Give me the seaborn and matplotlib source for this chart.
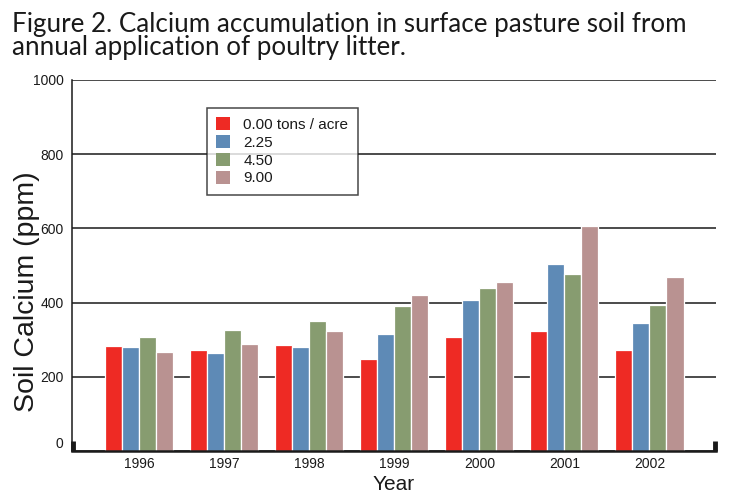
import matplotlib
matplotlib.use("Agg")
import matplotlib.pyplot as plt
import matplotlib.transforms as mtransforms
import seaborn as sns
import pandas as pd

years = ["1996", "1997", "1998", "1999", "2000", "2001", "2002"]
rates = ["0.00 tons / acre", "2.25", "4.50", "9.00"]
ca_000 = [284, 273, 287, 249, 308, 324, 273]
ca_225 = [279, 265, 281, 316, 407, 504, 346]
ca_450 = [308, 327, 351, 391, 440, 477, 394]
ca_900 = [268, 289, 324, 421, 456, 606, 469]
yticks = [0, 200, 400, 600, 800, 1000]
colors = ["#EE2A24", "#5E8AB6", "#879C70", "#B99291"]

series = [ca_000, ca_225, ca_450, ca_900]
rows = []
for r, vals in zip(rates, series):
    for y, v in zip(years, vals):
        rows.append({"Year": y, "Rate": r, "Calcium": v})
df = pd.DataFrame(rows)

sns.set_style("white")
plt.rcParams["font.family"] = ["Liberation Sans", "DejaVu Sans"]

fig = plt.figure(figsize=(7.39, 4.95), dpi=100)
ax = fig.add_axes([72/739, 1-451/495, (716-72)/739, (451-80)/495])

sns.barplot(data=df, x="Year", y="Calcium", hue="Rate", order=years,
            hue_order=rates, palette=colors, width=0.8, gap=0,
            saturation=1, edgecolor="white", linewidth=0.9, ax=ax)

ax.set_ylim(0, 1000)
ax.set_xlim(-0.788, 6.782)
ax.set_yticks(yticks)
ax.set_yticklabels([str(t) for t in yticks])
ax.yaxis.grid(True, color="#1a1a1a", linewidth=1.1)
ax.xaxis.grid(False)
ax.set_axisbelow(True)
ax.tick_params(axis="both", length=0, labelsize=10, colors="#1a1a1a")
ax.tick_params(axis="y", pad=6)
ax.tick_params(axis="x", pad=4)

for s in ["top", "right"]:
    ax.spines[s].set_visible(False)
ax.spines["left"].set_color("#1a1a1a")
ax.spines["left"].set_linewidth(1.1)
ax.spines["bottom"].set_color("#1a1a1a")
ax.spines["bottom"].set_linewidth(1.8)

# end markers on baseline
ax.plot([0.002, 0.002], [0, 0.026], transform=ax.transAxes, color="#1a1a1a",
        lw=3.5, solid_capstyle="butt", clip_on=False)
ax.plot([0.998, 0.998], [0, 0.026], transform=ax.transAxes, color="#1a1a1a",
        lw=3.5, solid_capstyle="butt", clip_on=False)

# raise the "0" label a bit
t0 = ax.yaxis.get_major_ticks()[0]
t0.label1.set_transform(t0.label1.get_transform() +
                        mtransforms.ScaledTranslation(0, 9/100, fig.dpi_scale_trans))

ax.set_ylabel("Soil Calcium (ppm)", fontsize=20.5, color="#1a1a1a")
ax.yaxis.set_label_coords(-0.049, 0.4286)
ax.set_xlabel("Year", fontsize=15, color="#1a1a1a", labelpad=3)

sns.move_legend(ax, loc="upper left", bbox_to_anchor=(0.2096, 0.9245),
                title=None, frameon=True, fontsize=11, handlelength=0.93,
                handleheight=0.93, handletextpad=0.86, labelspacing=0.2,
                borderpad=0.6, borderaxespad=0, fancybox=False)
leg = ax.get_legend()
leg.get_frame().set_edgecolor("#1a1a1a")
leg.get_frame().set_linewidth(1.1)
for t in leg.get_texts():
    t.set_color("#1a1a1a")
for h in leg.legend_handles:
    h.set_edgecolor("none")

fig.text(12/739, 1-32/495, "Figure 2. Calcium accumulation in surface pasture soil from",
         fontsize=18.7, family=["Lato", "DejaVu Sans"], color="#1a1a1a", va="baseline")
fig.text(12/739, 1-55/495, "annual application of poultry litter.",
         fontsize=18.7, family=["Lato", "DejaVu Sans"], color="#1a1a1a", va="baseline")

fig.savefig("out.png", dpi=100)
